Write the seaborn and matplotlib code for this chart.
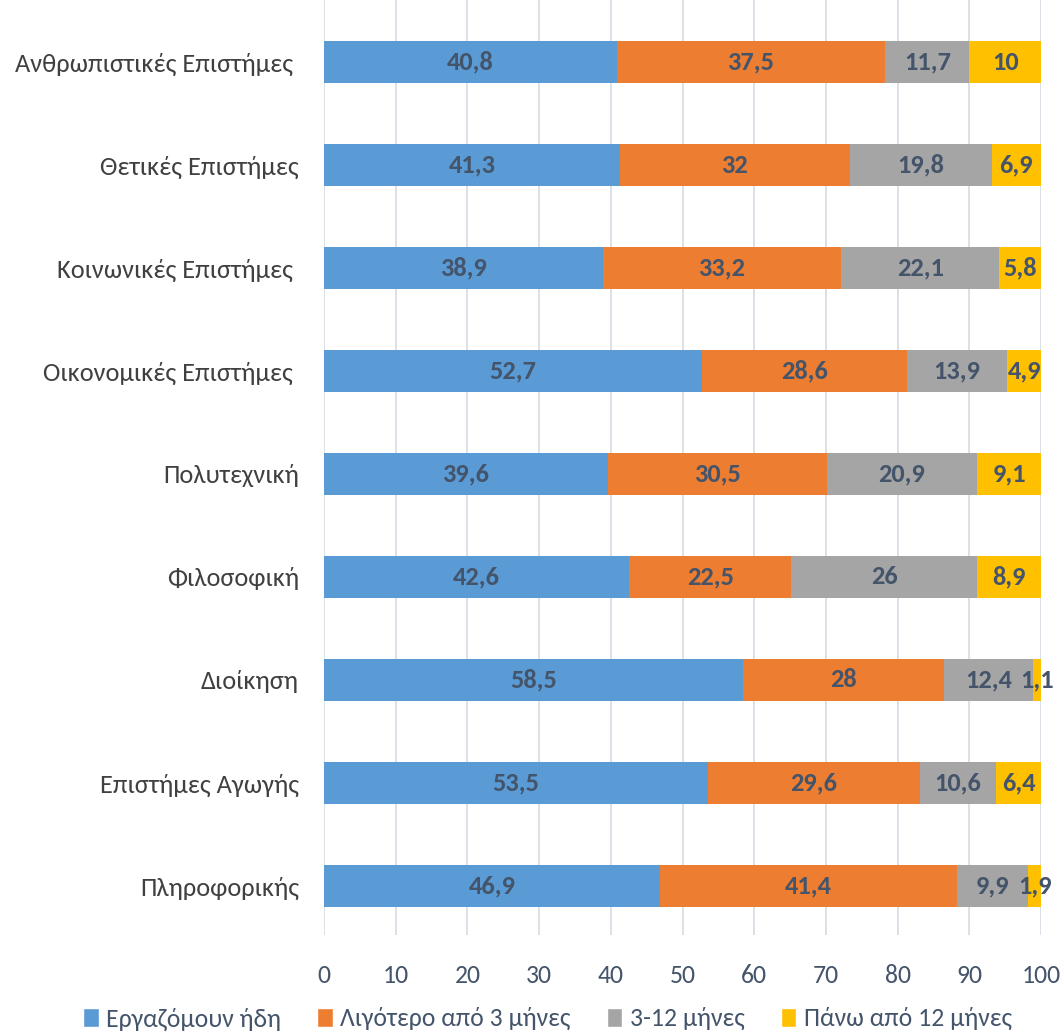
import numpy as np
import pandas as pd
import matplotlib
matplotlib.use("Agg")
import matplotlib.pyplot as plt
from matplotlib.patches import Patch
import seaborn as sns

categories = [
    "Ανθρωπιστικές Επιστήμες ",
    "Θετικές Επιστήμες",
    "Κοινωνικές Επιστήμες ",
    "Οικονομικές Επιστήμες ",
    "Πολυτεχνική",
    "Φιλοσοφική",
    "Διοίκηση",
    "Επιστήμες Αγωγής",
    "Πληροφορικής",
]
series_names = ["Εργαζόμουν ήδη", "Λιγότερο από 3 μήνες", "3-12 μήνες", "Πάνω από 12 μήνες"]
working = [40.8, 41.3, 38.9, 52.7, 39.6, 42.6, 58.5, 53.5, 46.9]
under_3 = [37.5, 32, 33.2, 28.6, 30.5, 22.5, 28, 29.6, 41.4]
months_3_12 = [11.7, 19.8, 22.1, 13.9, 20.9, 26, 12.4, 10.6, 9.9]
over_12 = [10, 6.9, 5.8, 4.9, 9.1, 8.9, 1.1, 6.4, 1.9]
x_ticks = [0, 10, 20, 30, 40, 50, 60, 70, 80, 90, 100]

colors = ["#5B9BD5", "#ED7D31", "#A5A5A5", "#FFC000"]
label_color = "#44546A"

sns.set_theme(style="white")
plt.rcParams["font.family"] = ["Carlito", "Liberation Sans Narrow", "DejaVu Sans"]

df = pd.DataFrame({"Σχολή": categories})
values = [working, under_3, months_3_12, over_12]
for name, vals in zip(series_names, values):
    df[name] = vals
cum = df[series_names].cumsum(axis=1)

fig = plt.figure(figsize=(10.61, 10.35), dpi=100)
ax = fig.add_axes([0.3054, 0.0966, 0.6758, 0.9034])

# stacked bars: draw cumulative totals from the longest down
for name, color in reversed(list(zip(series_names, colors))):
    sns.barplot(x=cum[name], y=df["Σχολή"], orient="h", color=color,
                width=0.41, ax=ax, saturation=1, linewidth=0)

# segment labels
for i in range(len(categories)):
    left = 0
    for name in series_names:
        v = df.loc[i, name]
        txt = f"{v:g}".replace(".", ",")
        ax.text(left + v / 2, i, txt, ha="center", va="center",
                fontsize=19, fontweight="bold", color=label_color)
        left += v

ax.set_xlim(0, 100)
ax.set_ylim(8.476, -0.602)
ax.set_xticks(x_ticks)
ax.grid(axis="x", color="#D9DEE6", linewidth=1.3)
ax.set_axisbelow(True)
for s in ax.spines.values():
    s.set_visible(False)
ax.set_xlabel("")
ax.set_ylabel("")
ax.tick_params(axis="x", length=0, pad=21, labelsize=18.5, labelcolor=label_color)
ax.tick_params(axis="y", length=0, pad=18, labelsize=19, labelcolor="#404040")

handles = [Patch(facecolor=c, label=n) for c, n in zip(colors, series_names)]
fig.legend(handles=handles, loc="lower center", bbox_to_anchor=(0.516, -0.018),
           ncol=4, frameon=False, fontsize=18.5, handlelength=0.6, handleheight=0.8,
           handletextpad=0.3, columnspacing=1.4, labelcolor=label_color)

fig.savefig("out.png", dpi=100)
